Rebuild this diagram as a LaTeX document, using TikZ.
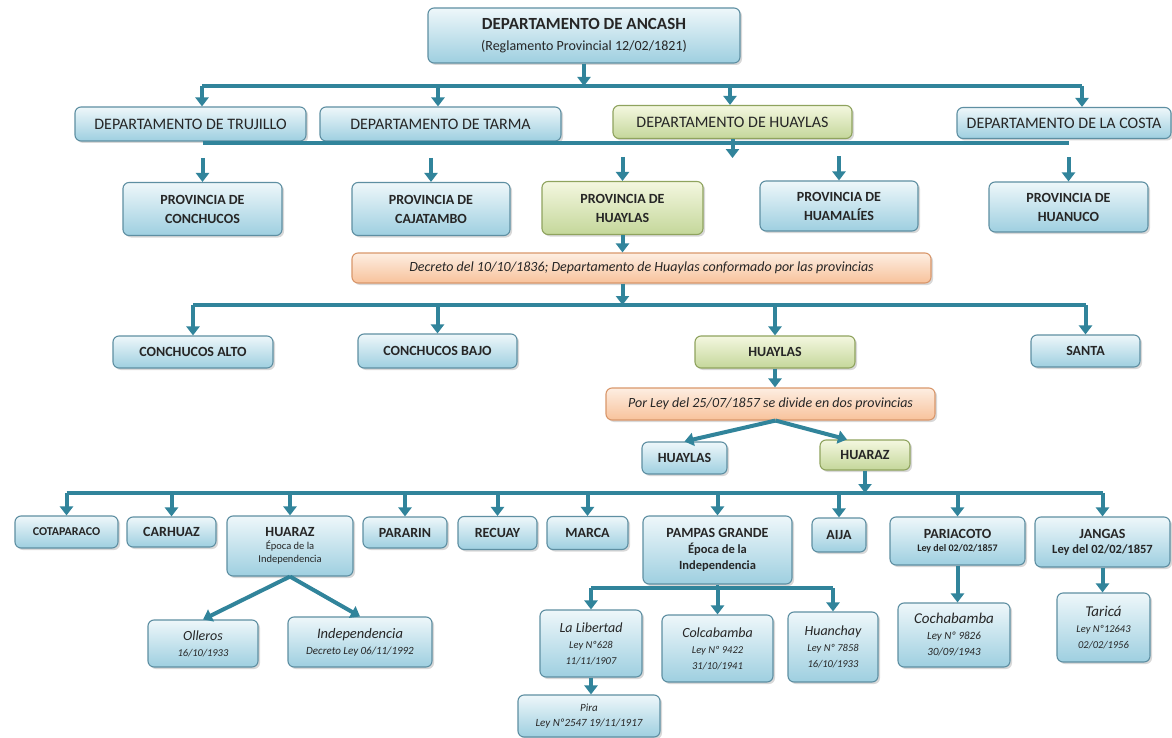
\documentclass[tikz,border=0pt]{standalone}
\usepackage{fontspec}
\setmainfont{Carlito}
\usetikzlibrary{arrows.meta,shadows,calc}

\definecolor{flecha}{HTML}{31849B}
\definecolor{azulborde}{HTML}{5E8FA2}
\definecolor{azularriba}{HTML}{EEF7FA}
\definecolor{azulabajo}{HTML}{9ECFE0}
\definecolor{verdeborde}{HTML}{8FA35E}
\definecolor{verdearriba}{HTML}{F4F7E0}
\definecolor{verdeabajo}{HTML}{C4D79A}
\definecolor{naranjaborde}{HTML}{D9976B}
\definecolor{naranjaarriba}{HTML}{FDEEE2}
\definecolor{naranjaabajo}{HTML}{F8C29B}
\definecolor{texto}{HTML}{262626}

\begin{document}
\begin{tikzpicture}[x=1pt,y=-1pt,
        caja/.style={rectangle,rounded corners=6pt,draw=azulborde,line width=1.1pt,
                top color=azularriba,bottom color=azulabajo,text=texto,align=center,
                inner sep=2pt,drop shadow={opacity=0.3,shadow xshift=2pt,shadow yshift=-2pt}},
        verde/.style={draw=verdeborde,top color=verdearriba,bottom color=verdeabajo},
        naranja/.style={draw=naranjaborde,top color=naranjaarriba,bottom color=naranjaabajo},
        depto/.style={caja,font=\fontsize{16}{19}\selectfont},
        prov/.style={caja,font=\fontsize{14}{19}\selectfont\bfseries},
        nota/.style={caja,naranja,font=\fontsize{14}{17}\selectfont\itshape},
        dist/.style={caja,font=\fontsize{10.5}{16}\selectfont\itshape},
        flechas/.style={draw=flecha,line width=4pt,-{Triangle[width=13pt,length=9pt]}},
        barra/.style={draw=flecha,line width=3.5pt}
    ]

    \fill[white] (0,0) rectangle (1172,738);
    \useasboundingbox (0,0) rectangle (1172,738);

    % departamento
    \node[caja,minimum width=312pt,minimum height=55pt,font=\fontsize{14}{17}\selectfont] (ancash) at (584,35.5)
    {\fontsize{17}{20}\selectfont\bfseries DEPARTAMENTO DE ANCASH\\[4pt]
        (Reglamento Provincial 12/02/1821)};

    \node[depto,minimum width=231pt,minimum height=34pt] (trujillo) at (190.5,124) {DEPARTAMENTO DE TRUJILLO};
    \node[depto,minimum width=241pt,minimum height=34pt] (tarma) at (440.5,124) {DEPARTAMENTO DE TARMA};
    \node[depto,verde,minimum width=239pt,minimum height=33pt] (dhuaylas) at (732.5,122) {DEPARTAMENTO DE HUAYLAS};
    \node[depto,minimum width=214pt,minimum height=31pt] (costa) at (1064,123) {DEPARTAMENTO DE LA COSTA};

    % provincias
    \node[prov,minimum width=159pt,minimum height=53pt] (pconchucos) at (202.5,209) {PROVINCIA DE\\CONCHUCOS};
    \node[prov,minimum width=158pt,minimum height=53pt] (pcajatambo) at (431,209) {PROVINCIA DE\\CAJATAMBO};
    \node[prov,verde,minimum width=161pt,minimum height=53pt] (phuaylas) at (622.5,208) {PROVINCIA DE\\HUAYLAS};
    \node[prov,minimum width=158pt,minimum height=50pt] (phuamalies) at (839,206) {PROVINCIA DE\\HUAMALÍES};
    \node[prov,minimum width=159pt,minimum height=50pt] (phuanuco) at (1068.5,207) {PROVINCIA DE\\HUANUCO};

    \node[nota,minimum width=579pt,minimum height=30pt] (decreto) at (641.5,268)
    {Decreto del 10/10/1836; Departamento de Huaylas conformado por las provincias};

    \node[prov,minimum width=160pt,minimum height=32pt] (calto) at (193,352) {CONCHUCOS ALTO};
    \node[prov,minimum width=159pt,minimum height=34pt] (cbajo) at (437.5,351) {CONCHUCOS BAJO};
    \node[prov,verde,minimum width=160pt,minimum height=32pt] (huaylas) at (775,352) {HUAYLAS};
    \node[prov,minimum width=109pt,minimum height=32pt] (santa) at (1085.5,351) {SANTA};

    \node[nota,minimum width=329pt,minimum height=32pt] (porley) at (770.5,404)
    {Por Ley del 25/07/1857 se divide en dos provincias};

    \node[prov,minimum width=85pt,minimum height=32pt] (huaylasb) at (684.5,458) {HUAYLAS};
    \node[prov,verde,minimum width=90pt,minimum height=30pt] (huarazp) at (865,455) {HUARAZ};

    % distritos
    \node[prov,minimum width=103pt,minimum height=32pt,font=\fontsize{12}{14}\selectfont\bfseries] (cotaparaco) at (66.5,532) {COTAPARACO};
    \node[prov,minimum width=89pt,minimum height=30pt] (carhuaz) at (171.5,532) {CARHUAZ};
    \node[prov,minimum width=126pt,minimum height=60pt,font=\fontsize{10.5}{13}\selectfont] (huaraz) at (290,546)
    {\fontsize{14}{17}\selectfont\bfseries HUARAZ\\ Época de la\\ Independencia};
    \node[prov,minimum width=84pt,minimum height=31pt] (pararin) at (405,532.5) {PARARIN};
    \node[prov,minimum width=79pt,minimum height=33pt] (recuay) at (497.5,533) {RECUAY};
    \node[prov,minimum width=81pt,minimum height=33pt] (marca) at (587.5,533) {MARCA};
    \node[prov,minimum width=149pt,minimum height=68pt,font=\fontsize{12.5}{16}\selectfont\bfseries] (pampas) at (717.5,550)
    {\fontsize{14}{18}\selectfont PAMPAS GRANDE\\ Época de la\\ Independencia};
    \node[prov,minimum width=54pt,minimum height=34pt] (aija) at (839,535) {AIJA};
    \node[prov,minimum width=135pt,minimum height=48pt,font=\fontsize{10}{13}\selectfont\bfseries] (pariacoto) at (957.5,541)
    {\fontsize{14}{17}\selectfont PARIACOTO\\ Ley del 02/02/1857};
    \node[prov,minimum width=135pt,minimum height=50pt,font=\fontsize{12.5}{15}\selectfont\bfseries] (jangas) at (1102.5,542)
    {\fontsize{14}{17}\selectfont JANGAS\\ Ley del 02/02/1857};

    \node[dist,minimum width=110pt,minimum height=47pt] (olleros) at (203,643.5)
    {\fontsize{14}{17}\selectfont Olleros\\ 16/10/1933};
    \node[dist,minimum width=144pt,minimum height=50pt,font=\fontsize{11}{16}\selectfont\itshape] (independencia) at (360,642)
    {\fontsize{14.5}{17}\selectfont Independencia\\ Decreto Ley 06/11/1992};
    \node[dist,minimum width=102pt,minimum height=67pt] (libertad) at (591,643.5)
    {\fontsize{14}{17}\selectfont La Libertad\\ Ley Nº628\\ 11/11/1907};
    \node[dist,minimum width=111pt,minimum height=67pt] (colcabamba) at (717.5,648.5)
    {\fontsize{14}{17}\selectfont Colcabamba\\ Ley Nº 9422\\ 31/10/1941};
    \node[dist,minimum width=90pt,minimum height=70pt] (huanchay) at (833,647)
    {\fontsize{14}{17}\selectfont Huanchay\\ Ley Nº 7858\\ 16/10/1933};
    \node[dist,minimum width=142pt,minimum height=42pt,font=\fontsize{11}{15}\selectfont\itshape] (pira) at (589,716)
    {Pira\\ Ley Nº2547 19/11/1917};
    \node[dist,minimum width=112pt,minimum height=64pt,font=\fontsize{11}{16}\selectfont\itshape] (cochabamba) at (954,635)
    {\fontsize{15}{18}\selectfont Cochabamba\\ Ley Nº 9826\\ 30/09/1943};
    \node[dist,minimum width=93pt,minimum height=69pt] (tarica) at (1103.5,627.5)
    {\fontsize{15}{18}\selectfont Taricá\\ Ley Nº12643\\ 02/02/1956};

    % flechas
    \coordinate (b1a) at (202,86);
    \coordinate (b1b) at (438,86);
    \coordinate (b1c) at (730,86);
    \coordinate (b1d) at (1082,86);
    \draw[barra] (b1a) -- (b1d);
    \draw[flechas] (ancash.south) -- (ancash.south |- b1a);
    \foreach \c/\n in {b1a/trujillo,b1b/tarma,b1c/dhuaylas,b1d/costa}
    \draw[flechas] (\c) -- (\c |- \n.north);

    \coordinate (b2) at (0,143);
    \draw[barra] (pconchucos.north |- b2) -- (phuanuco.north |- b2);
    \draw[flechas] (dhuaylas.south) -- ++(0,19);
    \foreach \n in {pconchucos,pcajatambo,phuaylas,phuamalies,phuanuco}
    \draw[flechas] ([yshift=24pt]\n.north) -- (\n.north);

    \draw[flechas] (phuaylas.south) -- (phuaylas.south |- decreto.north);
    \coordinate (b3) at (0,305);
    \draw[flechas] (decreto.south -| phuaylas.south) -- (phuaylas.south |- b3);
    \draw[barra] (calto.north |- b3) -- (santa.north |- b3);
    \foreach \n in {calto,cbajo,huaylas,santa}
    \draw[flechas] (\n.north |- b3) -- (\n.north);

    \draw[flechas] (huaylas.south) -- (huaylas.south |- porley.north);
    \draw[flechas] ($(porley.south)+(5,0)$) -- (huaylasb.north);
    \draw[flechas] ($(porley.south)+(5,0)$) -- ($(huarazp.north)+(-18,0)$);

    \coordinate (b4) at (0,493);
    \draw[flechas] (huarazp.south) -- (huarazp.south |- b4);
    \draw[barra] (cotaparaco.north |- b4) -- (jangas.north |- b4);
    \foreach \n in {cotaparaco,carhuaz,huaraz,pararin,recuay,marca,pampas,aija,pariacoto,jangas}
    \draw[flechas] (\n.north |- b4) -- (\n.north);

    \draw[flechas] (huaraz.south) -- (olleros.north);
    \draw[flechas] (huaraz.south) -- (independencia.north);

    \coordinate (b5) at (0,588);
    \draw[barra] (pampas.south) -- (pampas.south |- b5);
    \draw[barra] (libertad.north |- b5) -- (huanchay.north |- b5);
    \foreach \n in {libertad,colcabamba,huanchay}
    \draw[flechas] (\n.north |- b5) -- (\n.north);
    \draw[flechas] (libertad.south) -- (libertad.south |- pira.north);

    \draw[flechas] (pariacoto.south) -- (pariacoto.south |- cochabamba.north);
    \draw[flechas] (jangas.south) -- (jangas.south |- tarica.north);

\end{tikzpicture}
\end{document}
